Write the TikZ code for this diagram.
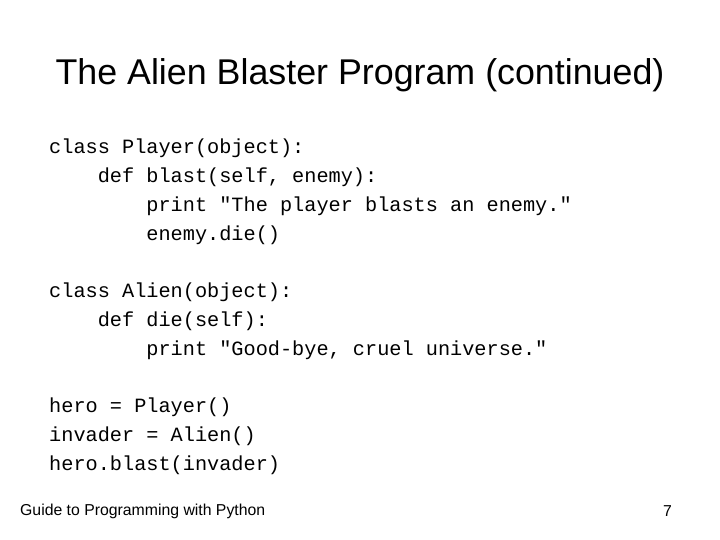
\documentclass[tikz,border=0pt]{standalone}
\usepackage{fontspec}
\setmainfont{Liberation Sans}
\setmonofont{Liberation Mono}

\begin{document}
\begin{tikzpicture}[x=1pt,y=-1pt,
    codeline/.style={anchor=west, inner sep=0pt, font=\fontsize{20.25}{23}\ttfamily},
    footer/.style={inner sep=0pt, font=\fontsize{15.8}{18}\selectfont}]
			% Slide frame
			\useasboundingbox (0,0) rectangle (720,540);

			% Title
			\node[inner sep=0pt, font=\fontsize{35.8}{40}\selectfont] (title) at (360,75) {The Alien Blaster Program (continued)};

			% Code listing
			\foreach \y/\txt [count=\i] in {
					148/{class Player(object):},
					177/{\ \ \ \ def blast(self, enemy):},
					206/{\ \ \ \ \ \ \ \ print "The player blasts an enemy."},
					235/{\ \ \ \ \ \ \ \ enemy.die()},
					292/{class Alien(object):},
					321/{\ \ \ \ def die(self):},
					350/{\ \ \ \ \ \ \ \ print "Good-bye, cruel universe."},
					407/{hero = Player()},
					436/{invader = Alien()},
					465/{hero.blast(invader)}} {
					\node[codeline] (line\i) at (49,\y) {\txt};
				}

			% Footer
			\node[footer, anchor=west] (source) at (20,511) {Guide to Programming with Python};
			\node[footer, anchor=east] (page) at (672,511) {7};
		\end{tikzpicture}
\end{document}
